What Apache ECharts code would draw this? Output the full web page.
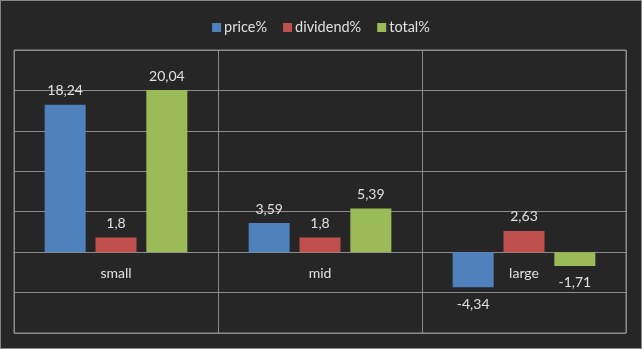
<!DOCTYPE html>
<html><head><meta charset="utf-8">
<script src="https://cdn.jsdelivr.net/npm/echarts@6/dist/echarts.min.js"></script>
<style>html,body{margin:0;padding:0;background:#262626;}#c{width:642px;height:349px;box-sizing:border-box;border:1px solid #868686;}</style>
</head><body><div id="c"></div>
<script>
const categories = ['small', 'mid', 'large'];
const priceValues = [18.24, 3.59, -4.34];
const dividendValues = [1.8, 1.8, 2.63];
const totalValues = [20.04, 5.39, -1.71];
const seriesNames = ['price%', 'dividend%', 'total%'];
const colors = ['#4f81bd', '#c0504d', '#9bbb59'];
const Y_MIN = -10, Y_MAX = 25, Y_STEP = 5;
const FONT = 'Lato';
const chart = echarts.init(document.getElementById('c'));
const fmt = p => String(p.value).replace('.', ',');
function mk(name, data, color) {
  return {
    name, type: 'bar',
    data: data.map(v => ({value: v, label: {position: v < 0 ? 'bottom' : 'top', distance: v < 0 ? 10 : 7}})),
    barWidth: 41, barGap: '24%',
    itemStyle: {color},
    label: {show: true, color: '#e0e0e0', fontSize: 14, fontFamily: FONT, formatter: fmt}
  };
}
chart.setOption({
  backgroundColor: '#262626',
  animation: false,
  legend: {
    top: 14, left: 'center', itemWidth: 9, itemHeight: 9, itemGap: 16,
    icon: 'rect',
    textStyle: {color: '#e0e0e0', fontSize: 14.5, fontFamily: FONT, padding: [0, 0, 0, -2]},
    data: seriesNames
  },
  grid: {left: 13, right: 15, top: 49, bottom: 15, show: true, borderColor: '#8c8c8c', borderWidth: 1,
         containLabel: false, outerBoundsMode: 'none'},
  xAxis: {
    type: 'category', data: categories, position: 'bottom',
    axisLine: {onZero: false, lineStyle: {color: '#8c8c8c'}},
    axisTick: {show: false},
    splitLine: {show: true, lineStyle: {color: '#8c8c8c'}},
    axisLabel: {color: '#e0e0e0', fontSize: 14, fontFamily: FONT, margin: 14}
  },
  yAxis: {
    type: 'value', min: Y_MIN, max: Y_MAX, interval: Y_STEP,
    axisLabel: {show: false}, axisLine: {show: false}, axisTick: {show: false},
    splitLine: {lineStyle: {color: '#8c8c8c'}}
  },
  series: [
    mk(seriesNames[0], priceValues, colors[0]),
    mk(seriesNames[1], dividendValues, colors[1]),
    mk(seriesNames[2], totalValues, colors[2])
  ]
});
// place the category axis on the zero line using the value axis scale
const zeroY = chart.convertToPixel({yAxisIndex: 0}, 0);
const bottomY = chart.convertToPixel({yAxisIndex: 0}, Y_MIN);
chart.setOption({xAxis: {offset: -(bottomY - zeroY)}});
</script></body></html>
